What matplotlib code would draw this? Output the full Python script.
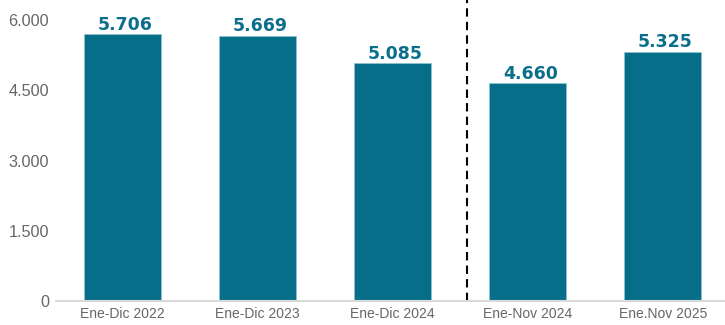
import matplotlib.pyplot as plt

categories = ["Ene-Dic 2022", "Ene-Dic 2023", "Ene-Dic 2024", "Ene-Nov 2024", "Ene.Nov 2025"]
values = [5706, 5669, 5085, 4660, 5325]
yticks = [0, 1500, 3000, 4500, 6000]
ytick_labels = ["0", "1.500", "3.000", "4.500", "6.000"]

bar_color = "#076e8a"
label_color = "#0b6f8b"
grey = "#666666"

plt.rcParams["font.family"] = ["Liberation Sans", "DejaVu Sans"]

fig = plt.figure(figsize=(7.25, 3.25), dpi=100)
ax = fig.add_axes([0.0772, 0.0738, 0.9228, 0.9262])

x = range(len(categories))
ax.bar(x, values, width=0.57, color=bar_color, edgecolor="#8fc3d4", linewidth=0.5)

# value labels sit just above each bar
for xi, v in zip(x, values):
    ax.text(xi + 0.02, v + 90, f"{v:,}".replace(",", "."), ha="center", va="baseline",
            fontsize=12.5, fontweight="bold", color=label_color, family="DejaVu Sans")

ax.axvline(2.55, color="black", linestyle=(0, (4, 2.5)), linewidth=1.5)

ax.set_xlim(-0.49, 4.46)
ax.set_ylim(0, 6427)
ax.set_xticks(list(x))
ax.set_xticklabels(categories, fontsize=10, color=grey)
ax.set_yticks(yticks)
ax.set_yticklabels(ytick_labels, fontsize=11.7, color=grey)
ax.tick_params(axis="both", length=0)
ax.tick_params(axis="x", pad=4)
ax.tick_params(axis="y", pad=5)

for side in ["top", "right", "left"]:
    ax.spines[side].set_visible(False)
ax.spines["bottom"].set_color("#d9d9d9")
ax.spines["bottom"].set_linewidth(1.5)

fig.savefig("out.png", dpi=100)
